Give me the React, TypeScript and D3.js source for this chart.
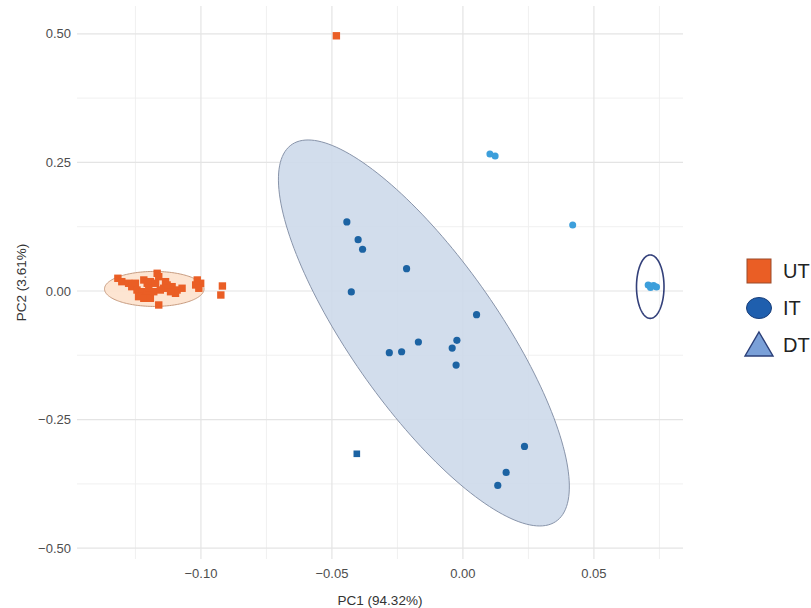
import React from "react";
import * as d3 from "d3";

// PCA scores: [PC1, PC2]
const utPoints: [number, number][] = [
  [-0.1317, 0.0247], [-0.1302, 0.0181], [-0.1276, 0.015], [-0.1264, 0.0084],
  [-0.125, 0.015], [-0.1218, 0.0214], [-0.1205, 0.015], [-0.1193, 0.0181],
  [-0.1167, 0.0344], [-0.1161, 0.0278], [-0.1173, 0.015], [-0.1135, 0.0181],
  [-0.1129, 0.0117], [-0.1142, 0.0053], [-0.111, 0.0084], [-0.1091, 0.0019],
  [-0.1072, 0.0053], [-0.1097, -0.0045], [-0.1244, 0.0019], [-0.1225, -0.0014],
  [-0.1205, -0.0045], [-0.1238, -0.011], [-0.1218, -0.0142], [-0.1193, -0.0142],
  [-0.118, -0.0014], [-0.1161, -0.0272], [-0.1014, 0.0214], [-0.1001, 0.015],
  [-0.102, 0.0117], [-0.1008, 0.0053], [-0.0918, 0.0097], [-0.0924, -0.0078],
  [-0.1199, 0.0053], [-0.1155, 0.0019], [-0.1116, -0.0014], [-0.0483, 0.4961],
];

const itPoints: [number, number][] = [
  [-0.0443, 0.1342], [-0.04, 0.0998], [-0.0383, 0.0811], [-0.0215, 0.0434],
  [-0.0426, -0.0019], [0.0052, -0.0461], [-0.017, -0.0992], [-0.0023, -0.0959],
  [-0.0041, -0.1109], [-0.0026, -0.144], [-0.0281, -0.12], [-0.0234, -0.1181],
  [0.0235, -0.3021], [0.0165, -0.3527], [0.0133, -0.378],
];

// one IT-coloured sample drawn with a square marker
const itSquarePoints: [number, number][] = [[-0.0405, -0.3165]];

const dtPoints: [number, number][] = [
  [0.0103, 0.2665], [0.0123, 0.2626], [0.0419, 0.1284],
  [0.0707, 0.0117], [0.0716, 0.0097], [0.0728, 0.0107], [0.0739, 0.0078], [0.0716, 0.0068],
];

// confidence ellipses: centre and two conjugate semi-diameters, in data units
const ellipses = [
  { key: "UT", c: [-0.1178, 0.004], a: [0.019, 0], b: [0, 0.034], fill: "#fde2cd", stroke: "#c79b7f" },
  { key: "IT", c: [-0.0149, -0.0816], a: [0.0336, 0], b: [0.0442, -0.3752], fill: "#cdd9ea", stroke: "#8894aa" },
  { key: "DT", c: [0.0715, 0.0084], a: [0.00525, 0], b: [0, 0.0617], fill: "none", stroke: "#33407a" },
];

const xTicks = [-0.1, -0.05, 0, 0.05];
const xMinor = [-0.125, -0.075, -0.025, 0.025, 0.075];
const yTicks = [-0.5, -0.25, 0, 0.25, 0.5];
const yMinor = [-0.375, -0.125, 0.125, 0.375];
const legendItems = ["UT", "IT", "DT"];

const colors = { UT: "#ea5e25", IT: "#1c63a3", DT: "#3d9fdb" };

export default function App() {
  const width = 811,
    height = 608;
  const panel = { left: 77, right: 683, top: 6, bottom: 559 };

  const x = d3.scaleLinear().domain([-0.1473, 0.084]).range([panel.left, panel.right]);
  const y = d3.scaleLinear().domain([-0.521, 0.554]).range([panel.bottom, panel.top]);

  const ellipsePath = (e: (typeof ellipses)[number]) => {
    const ts = d3.range(0, 2 * Math.PI + 0.001, Math.PI / 90);
    return (
      d3
        .line<number>()
        .x((t) => x(e.c[0] + e.a[0] * Math.cos(t) + e.b[0] * Math.sin(t)))
        .y((t) => y(e.c[1] + e.a[1] * Math.cos(t) + e.b[1] * Math.sin(t)))(ts) + "Z"
    );
  };

  const fmt = d3.format(".2f");
  const tickLabel = (v: number) => fmt(v).replace("-", "\u2013");

  return (
    <svg
      width={width}
      height={height}
      style={{ position: "absolute", left: 0, top: 0, background: "#fff" }}
      fontFamily="'Liberation Sans', Arial, sans-serif"
    >
      {/* grid */}
      <g>
        {xMinor.map((v) => (
          <line key={"xm" + v} x1={x(v)} x2={x(v)} y1={panel.top} y2={panel.bottom} stroke="#eeeeee" strokeWidth={0.9} />
        ))}
        {yMinor.map((v) => (
          <line key={"ym" + v} x1={panel.left} x2={panel.right} y1={y(v)} y2={y(v)} stroke="#eeeeee" strokeWidth={0.9} />
        ))}
        {xTicks.map((v) => (
          <line key={"x" + v} x1={x(v)} x2={x(v)} y1={panel.top} y2={panel.bottom} stroke="#e4e4e4" strokeWidth={1.2} />
        ))}
        {yTicks.map((v) => (
          <line key={"y" + v} x1={panel.left} x2={panel.right} y1={y(v)} y2={y(v)} stroke="#e4e4e4" strokeWidth={1.2} />
        ))}
      </g>

      {/* ellipses */}
      {ellipses.map((e) => (
        <path
          key={e.key}
          d={ellipsePath(e)}
          fill={e.fill}
          fillOpacity={e.fill === "none" ? 0 : 0.9}
          stroke={e.stroke}
          strokeWidth={e.key === "DT" ? 1.6 : 1}
        />
      ))}

      {/* points */}
      {utPoints.map((p, i) => (
        <rect key={"ut" + i} x={x(p[0]) - 3.7} y={y(p[1]) - 3.7} width={7.4} height={7.4} fill={colors.UT} />
      ))}
      {itPoints.map((p, i) => (
        <circle key={"it" + i} cx={x(p[0])} cy={y(p[1])} r={3.6} fill={colors.IT} />
      ))}
      {itSquarePoints.map((p, i) => (
        <rect key={"its" + i} x={x(p[0]) - 3.3} y={y(p[1]) - 3.3} width={6.6} height={6.6} fill={colors.IT} />
      ))}
      {dtPoints.map((p, i) => (
        <circle key={"dt" + i} cx={x(p[0])} cy={y(p[1])} r={3.5} fill={colors.DT} />
      ))}

      {/* axes labels */}
      {xTicks.map((v) => (
        <text key={"xl" + v} x={x(v)} y={578} textAnchor="middle" fontSize={13} fill="#4d4d4d">
          {tickLabel(v)}
        </text>
      ))}
      {yTicks.map((v) => (
        <text key={"yl" + v} x={71} y={y(v)} dy="0.35em" textAnchor="end" fontSize={13} fill="#4d4d4d">
          {tickLabel(v)}
        </text>
      ))}
      <text x={(panel.left + panel.right) / 2} y={605} textAnchor="middle" fontSize={13.5} fill="#333">
        PC1 (94.32%)
      </text>
      <text
        transform={`translate(26, ${(panel.top + panel.bottom) / 2}) rotate(-90)`}
        textAnchor="middle"
        fontSize={13.5}
        fill="#333"
      >
        PC2 (3.61%)
      </text>

      {/* legend */}
      {legendItems.map((k, i) => {
        const cy = 271 + i * 37;
        return (
          <g key={"lg" + k}>
            {k === "UT" && <rect x={747} y={cy - 12} width={24} height={24} fill={colors.UT} stroke="#9a4a2a" strokeWidth={1} />}
            {k === "IT" && <ellipse cx={759} cy={cy} rx={12.5} ry={10.5} fill="#1f5fae" stroke="#1a3f7a" strokeWidth={1} />}
            {k === "DT" && (
              <path d={`M759,${cy - 13}L773,${cy + 11}L745,${cy + 11}Z`} fill="#7aa0d8" stroke="#2b3f78" strokeWidth={1.4} />
            )}
            <text x={783} y={cy} dy="0.36em" fontSize={20} fill="#222">
              {k}
            </text>
          </g>
        );
      })}
    </svg>
  );
}
